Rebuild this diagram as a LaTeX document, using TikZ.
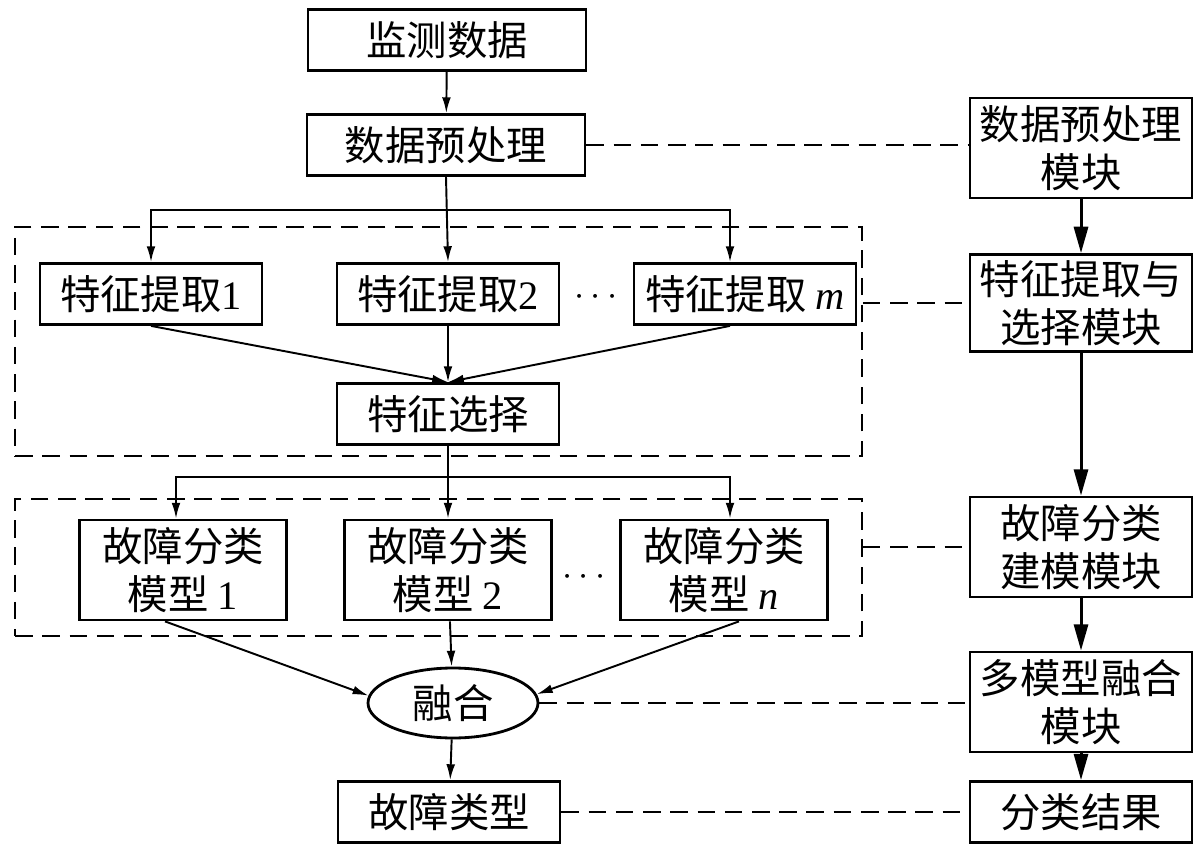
\documentclass[tikz,border=0pt]{standalone}
\usepackage{fontspec}
\setmainfont{Liberation Serif}
\newfontfamily\cjk{Noto Sans CJK SC}
\usetikzlibrary{shapes.geometric}
\usetikzlibrary{arrows.meta}

\tikzset{
  box/.style={draw, line width=1.6pt, inner sep=0pt, align=center,
    minimum width=4.44cm, minimum height=1.22cm,
    font={\cjk\fontsize{23}{27}\selectfont}},
  tall/.style={minimum height=2cm},
  fuse/.style={draw, ellipse, line width=1.6pt, inner sep=0pt,
    minimum width=3.4cm, minimum height=1.4cm,
    font={\cjk\fontsize{23}{27}\selectfont}},
  dashframe/.style={draw, line width=1.1pt, dash pattern=on 10pt off 5.5pt,
    minimum width=16.94cm, inner sep=0pt},
  link/.style={line width=1.1pt, dash pattern=on 10pt off 5.5pt},
  arr/.style={line width=1.1pt, -{Latex[length=9pt,width=5pt]}},
  bigarr/.style={line width=1.7pt, -{Triangle[length=15pt,width=8pt]}},
}

\begin{document}
\begin{tikzpicture}[x=0.02cm,y=-0.02cm]
\useasboundingbox (0,0) rectangle (1200,851);

% left column
\node[box,minimum width=5.56cm] (data) at (447,40) {监测数据};
\node[box,minimum width=5.56cm] (pre) at (446,145) {数据预处理};

\node[dashframe,minimum height=4.58cm] (fr1) at (438.5,341.5) {};
\node[box] (fe1) at (151,294) {特征提取\textrm{1}};
\node[box] (fe2) at (448,294) {特征提取\textrm{2}};
\node[box] (fem) at (745,294) {特征提取 \textrm{\itshape m}};
\node (dots1) at (596,297) {\fontsize{22}{22}\selectfont$\cdots$};
\node[box] (sel) at (448,414) {特征选择};

\node[dashframe,minimum height=2.74cm] (fr2) at (438.5,567.5) {};
\node[box,tall,minimum width=4.14cm] (m1) at (183,570) {故障分类\\模型 \textrm{1}};
\node[box,tall,minimum width=4.14cm] (m2) at (448,570) {故障分类\\模型 \textrm{2}};
\node[box,tall,minimum width=4.14cm] (mn) at (724,570) {故障分类\\模型 \textrm{\itshape n}};
\node (dots2) at (584,577) {\fontsize{22}{22}\selectfont$\cdots$};

\node[fuse] (fus) at (453,703) {融合};
\node[box] (type) at (449,812) {故障类型};

% right column
\node[box,tall] (r1) at (1081,148) {数据预处理\\模块};
\node[box,tall,minimum height=1.94cm] (r2) at (1081,303) {特征提取与\\选择模块};
\node[box,tall] (r3) at (1081,547) {故障分类\\建模模块};
\node[box,tall] (r4) at (1081,702) {多模型融合\\模块};
\node[box] (r5) at (1081,812) {分类结果};

% branch points
\coordinate (b1) at (448,210);
\coordinate (b2) at (448,477);

\draw[arr] (data) -- (pre);
\draw[arr] (pre.south) -- (fe2.north);
\draw[arr] (b1) -| (fe1.north);
\draw[arr] (b1) -| ([xshift=-0.3cm]fem.north);
\draw[arr] (fe1.south) -- (sel.north);
\draw[arr] (fe2) -- (sel);
\draw[arr] ([xshift=-0.3cm]fem.south) -- (sel.north);

\draw[arr] (sel) -- (m2);
\draw[arr] (b2) -| ([xshift=-0.14cm]m1.north);
\draw[arr] (b2) -| ([xshift=0.12cm]mn.north);
\draw[arr] ([xshift=-0.36cm]m1.south) -- (fus.175);
\draw[arr] (m2) -- (fus);
\draw[arr] ([xshift=0.3cm]mn.south) -- (fus.6);
\draw[arr] (fus) -- (type);

\draw[bigarr] (r1) -- (r2);
\draw[bigarr] (r2) -- (r3);
\draw[bigarr] (r3) -- (r4);
\draw[bigarr] (r4) -- (r5);

% dashed links to modules
\draw[link] (pre.east) -- (pre.east -| r1.west);
\draw[link] (fr1.east |- r2.west) -- (r2.west);
\draw[link] (fr2.east |- r3.west) -- (r3.west);
\draw[link] (fus.east) -- (fus.east -| r4.west);
\draw[link] (type) -- (r5);
\end{tikzpicture}
\end{document}
